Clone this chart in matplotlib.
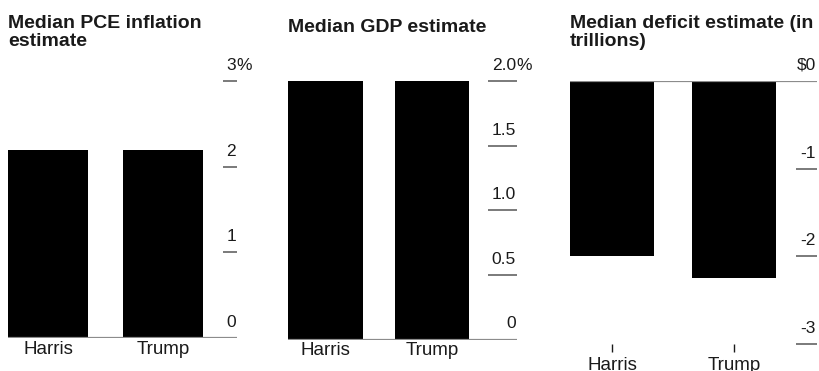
import matplotlib.pyplot as plt
from matplotlib.transforms import blended_transform_factory

plt.rcParams['font.family'] = ['Liberation Sans', 'DejaVu Sans']

# data
candidates = ['Harris', 'Trump']

pce_values = [2.2, 2.2]
pce_ticks = [0, 1, 2, 3]
pce_tick_labels = ['0', '1', '2', '3%']

gdp_values = [2.0, 2.0]
gdp_ticks = [0, 0.5, 1.0, 1.5, 2.0]
gdp_tick_labels = ['0', '0.5', '1.0', '1.5', '2.0%']

deficit_values = [-2.0, -2.25]
deficit_ticks = [0, -1, -2, -3]
deficit_tick_labels = ['$0', '-1', '-2', '-3']

W, H = 820, 371
TEXT = '#1a1a1a'
RULE = '#8c8c8c'
TICK = '#707070'

fig = plt.figure(figsize=(W / 100, H / 100), dpi=100)


def px_axes(left, right, top, bottom):
    # axes rect given in pixel coordinates of the image
    return fig.add_axes([left / W, 1 - bottom / H, (right - left) / W, (bottom - top) / H])


def panel(rect, xlim, ylim, values, ticks, tick_labels, tick_px, title, title_top,
          width, negative=False):
    ax = px_axes(*rect)
    ax.set_xlim(*xlim)
    ax.set_ylim(*ylim)
    ax.bar(range(len(values)), values, width=width, color='black', zorder=2)
    for s in ax.spines.values():
        s.set_visible(False)
    ax.set_yticks([])
    ax.axhline(0, color=RULE, lw=1.6, zorder=3)

    trans = blended_transform_factory(ax.transAxes, ax.transData)
    frac = tick_px / (rect[1] - rect[0])
    for t, lab in zip(ticks, tick_labels):
        if t != 0:
            ax.plot([1 - frac, 1], [t, t], color=TICK, lw=1.3, transform=trans,
                    clip_on=False, solid_capstyle='butt')
        num, suffix = (lab[:-1], '%') if lab.endswith('%') else (lab, '')
        ax.annotate(num, (1, t), xycoords=trans, xytext=(-1, 11),
                    textcoords='offset pixels', ha='right', va='baseline',
                    fontsize=12.5, color=TEXT, annotation_clip=False)
        if suffix:
            ax.annotate(suffix, (1, t), xycoords=trans, xytext=(-1, 11),
                        textcoords='offset pixels', ha='left', va='baseline',
                        fontsize=12.5, color=TEXT, annotation_clip=False)

    ax.set_xticks(range(len(candidates)))
    ax.set_xticklabels(candidates, fontsize=13.5, color=TEXT)
    if negative:
        ax.tick_params(axis='x', length=5.5, width=1, color=TEXT, pad=3.5)
    else:
        ax.tick_params(axis='x', length=0, pad=2)

    fig.text(rect[0] / W, 1 - title_top / H, title, fontsize=14, weight='bold',
             color=TEXT, ha='left', va='top', linespacing=1.1)
    return ax


panel((8, 237, 81, 338), (-0.348, 1.643), (0, 3), pce_values, pce_ticks,
      pce_tick_labels, 14, 'Median PCE inflation\nestimate', 15, 0.696)
panel((288, 517, 81, 339.5), (-0.352, 1.798), (0, 2), gdp_values, gdp_ticks,
      gdp_tick_labels, 29, 'Median GDP estimate', 18.5, 0.704)
panel((570, 817, 81, 344), (-0.344, 1.680), (-3, 0), deficit_values, deficit_ticks,
      deficit_tick_labels, 21, 'Median deficit estimate (in\ntrillions)', 15, 0.689,
      negative=True)

fig.savefig('out.png', dpi=100)
